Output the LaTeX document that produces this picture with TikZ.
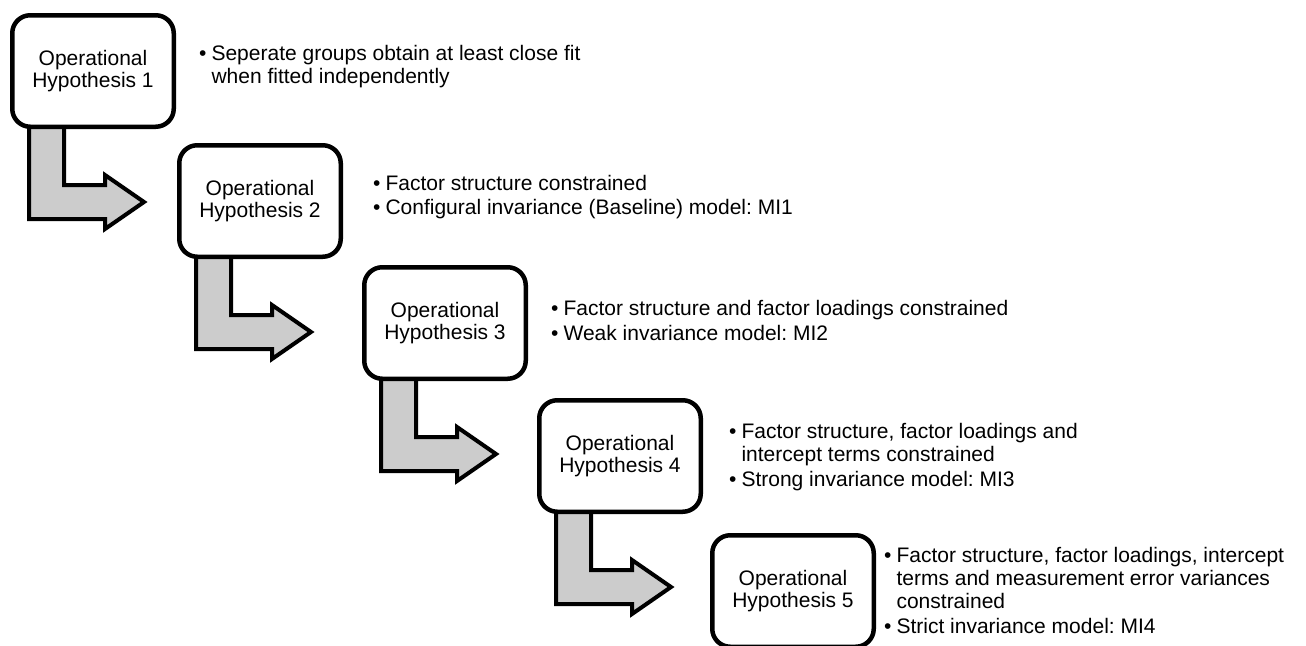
\documentclass[tikz,border=0pt]{standalone}
\usepackage{fontspec}
\setmainfont{Liberation Sans}
\usetikzlibrary{backgrounds}
\frenchspacing
\definecolor{arrowgray}{RGB}{204,204,204}
\tikzset{
  hyp/.style={draw=black, line width=4.5pt, rounded corners=18pt, fill=white,
    minimum width=161.5pt, minimum height=111.5pt, align=center, inner sep=0pt,
    font=\fontsize{21}{22}\selectfont},
  desc/.style={anchor=base west, inner sep=0pt, font=\fontsize{21}{23}\selectfont\frenchspacing},
  bendarrowstyle/.style={draw=black, line width=4pt, fill=arrowgray, line join=miter},
}
\newcommand\bendarrow[1]{%
  \filldraw[bendarrowstyle] ([shift={(19,-20)}]#1.south west) -- ++(0,110) -- ++(76,0)
    -- ++(0,10) -- ++(39,-27) -- ++(-39,-27) -- ++(0,10) -- ++(-41,0) -- ++(0,-76) -- cycle;}
\begin{document}
\begin{tikzpicture}[x=1pt,y=-1pt]
\useasboundingbox (0,0) rectangle (1306,645);
\clip (0,0) rectangle (1306,645);
\node[hyp] (b1) at (93,71) {Operational\\Hypothesis 1};
\node[hyp] (b2) at (260,201) {Operational\\Hypothesis 2};
\node[hyp] (b3) at (445,323) {Operational\\Hypothesis 3};
\node[hyp] (b4) at (620,456) {Operational\\Hypothesis 4};
\node[hyp] (b5) at (793,591) {Operational\\Hypothesis 5};
\begin{scope}[on background layer]
\bendarrow{b1}
\bendarrow{b2}
\bendarrow{b3}
\bendarrow{b4}
\end{scope}
\node[desc] (t1) at (199,60) {\begin{tabular}[t]{@{}l@{\hspace{5pt}}l@{}}
\textbullet & Seperate groups obtain at least close fit\\
 & when fitted independently\end{tabular}};
\node[desc] (t2) at (373,190) {\begin{tabular}[t]{@{}l@{\hspace{5pt}}l@{}}
\textbullet & Factor structure constrained\\[1pt]
\textbullet & Configural invariance (Baseline) model: MI1\end{tabular}};
\node[desc] (t3) at (551,315) {\begin{tabular}[t]{@{}l@{\hspace{5pt}}l@{}}
\textbullet & Factor structure and factor loadings constrained\\[2pt]
\textbullet & Weak invariance model: MI2\end{tabular}};
\node[desc] (t4) at (729,438) {\begin{tabular}[t]{@{}l@{\hspace{5pt}}l@{}}
\textbullet & Factor structure, factor loadings and\\
 & intercept terms constrained\\[2pt]
\textbullet & Strong invariance model: MI3\end{tabular}};
\node[desc] (t5) at (884,562) {\begin{tabular}[t]{@{}l@{\hspace{5pt}}l@{}}
\textbullet & Factor structure, factor loadings, intercept\\
 & terms and measurement error variances\\
 & constrained\\[2pt]
\textbullet & Strict invariance model: MI4\end{tabular}};
\end{tikzpicture}
\end{document}
